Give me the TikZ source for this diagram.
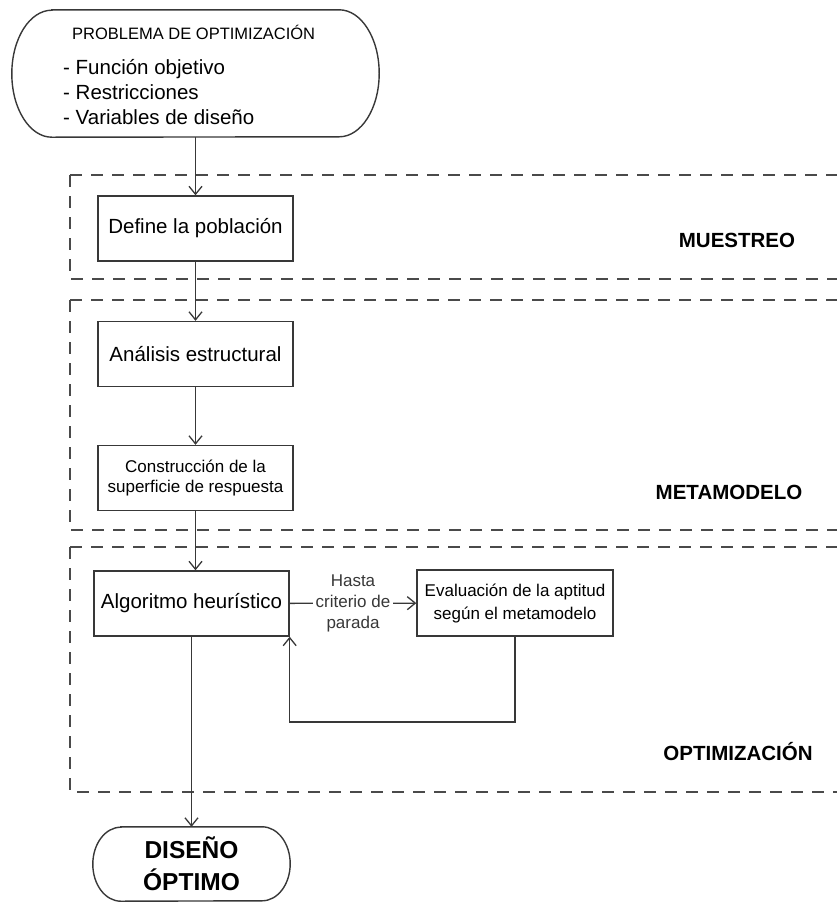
\documentclass[tikz,border=0pt]{standalone}
\usepackage{fontspec}
\setmainfont{Liberation Sans}
\usetikzlibrary{arrows.meta}
\definecolor{trazo}{HTML}{383838}
\definecolor{guion}{HTML}{4A4A4A}
\tikzset{
  caja/.style={draw=trazo, line width=1.4pt, minimum width=195pt, minimum height=65pt, inner sep=0pt, align=center, font=\fontsize{20.5}{25}\selectfont},
  cajachica/.style={caja, font=\fontsize{17}{19.5}\selectfont},
  texto/.style={anchor=base west, inner sep=0pt},
  flecha/.style={trazo, line width=1.3pt, -{Straight Barb[length=8pt,width=13pt]}},
  zona/.style={guion, line width=1.6pt, dash pattern=on 12pt off 9pt},
  etapa/.style={anchor=base, font=\bfseries\fontsize{20.5}{24}\selectfont},
  borde/.style={trazo, line width=1.4pt},
}
\begin{document}
\begin{tikzpicture}[x=1pt,y=-1pt]
\useasboundingbox (0,0) rectangle (837,903);
% zonas punteadas
\foreach \ya/\yb in {175/279, 300/530, 547/792} {
  \draw[zona] (70,\ya) -- (837,\ya);
  \draw[zona] (70,\ya) -- (70,\yb) -- (837,\yb);
}
\node[etapa] (muestreo) at (737,247) {MUESTREO};
\node[etapa] (metamodelo) at (729,499) {METAMODELO};
\node[etapa] (optimizacion) at (738,760) {OPTIMIZACIÓN};

% inicio
\node[minimum width=367pt, minimum height=127pt, inner sep=0pt] (problema) at (195.5,73.5) {};
\draw[borde] ([xshift=40pt]problema.north west) -- ([xshift=-40pt]problema.north east)
  arc[start angle=90, end angle=-90, x radius=40pt, y radius=63.5pt]
  -- ([xshift=40pt]problema.south west)
  arc[start angle=270, end angle=90, x radius=40pt, y radius=63.5pt] -- cycle;
\node[texto, font=\fontsize{16.5}{20}\selectfont] (titulo) at (72,39) {PROBLEMA DE OPTIMIZACIÓN};
\foreach \t [count=\i] in {- Función objetivo, - Restricciones, - Variables de diseño}
  \node[texto, font=\fontsize{20.5}{25}\selectfont] (item\i) at (63,49+25*\i) {\t};

% cajas
\node[caja] (poblacion) at (195.5,228.5) {Define la población};
\node[caja] (analisis) at (195.5,354) {Análisis estructural};
\node[cajachica] (superficie) at (195.5,478) {Construcción de la\\superficie de respuesta};
\node[caja] (algoritmo) at (191.5,603.5) {Algoritmo heurístico};
\node[caja, font=\fontsize{17}{23}\selectfont, minimum width=196pt, minimum height=66pt] (evaluacion) at (515,603) {Evaluación de la aptitud\\según el metamodelo};

% fin
\node[minimum width=197pt, minimum height=74pt, inner sep=0pt, align=center, font=\bfseries\fontsize{24.5}{32}\selectfont] (diseno) at (191.5,864) {DISEÑO\\ÓPTIMO};
\draw[borde] ([xshift=28pt]diseno.north west) -- ([xshift=-28pt]diseno.north east)
  arc[start angle=90, end angle=-90, x radius=28pt, y radius=37pt]
  -- ([xshift=28pt]diseno.south west)
  arc[start angle=270, end angle=90, x radius=28pt, y radius=37pt] -- cycle;

% flechas
\draw[flecha] (problema.south) -- (poblacion.north);
\draw[flecha] (poblacion) -- (analisis);
\draw[flecha] (analisis) -- (superficie);
\draw[flecha] (superficie.south) -- (superficie.south |- algoritmo.north);
\draw[flecha] (algoritmo) -- (evaluacion) node[midway, fill=white, inner sep=2.5pt, align=center, font=\fontsize{17}{21}\selectfont] (criterio) {Hasta\\criterio de\\parada};
\coordinate (vuelta) at (515,722);
\draw[flecha] (evaluacion.south) -- (vuelta) -| (algoritmo.south east);
\draw[flecha] (algoritmo) -- (diseno);
\end{tikzpicture}
\end{document}
